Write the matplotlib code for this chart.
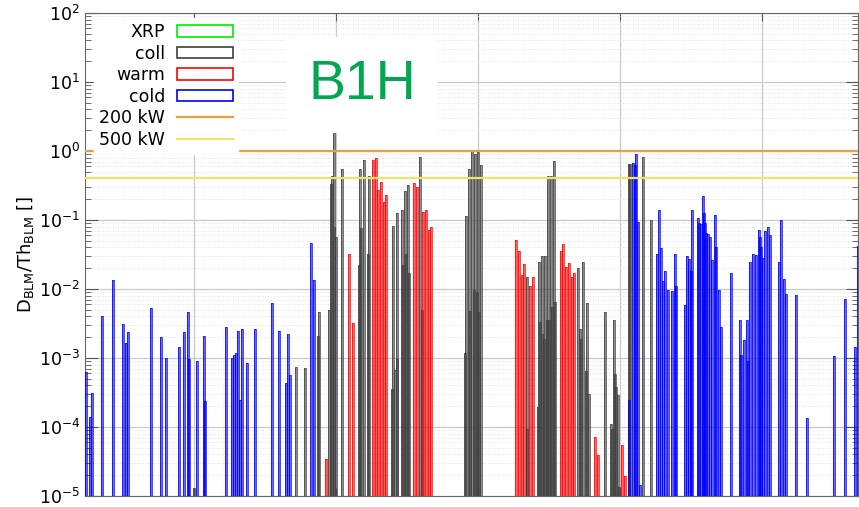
#!/usr/bin/env python3

import matplotlib
matplotlib.use("Agg")
import matplotlib.pyplot as plt
from matplotlib.patches import Patch
from matplotlib.lines import Line2D

# BLM positions along the ring (arbitrary units) and D_BLM/Th_BLM values
cold_s = [0.7, 5, 6.7, 17, 28, 38.3, 40.7, 42.7, 66, 76, 81.3, 94.3, 99, 103, 104.3,
          111.7, 119, 120.3, 141, 147.3, 149, 151, 153, 155, 156.7, 162, 169.7, 187,
          193.7, 201, 203, 205, 226.3, 229.3, 544, 547.7, 550, 551.3, 553.3, 555.3,
          571.7, 574.3, 576, 578, 579.7, 583, 587, 589.7, 591, 600, 601.7, 603.7, 605.7,
          607.3, 612.7, 614.3, 616.3, 617.7, 618.7, 620.3, 621.3, 623.3, 625.3, 627.3,
          629.7, 631.3, 633.7, 635.7, 646, 654.7, 656, 658.7, 661.7, 663.3, 665.3, 668.3,
          670.7, 673.7, 675, 676.3, 677.7, 680, 682.7, 685, 693.7, 696, 699.3, 701, 711,
          722.3, 749, 760, 770, 772.7]
cold_v = [6.3e-4, 1.4e-4, 3.1e-4, 4.0e-3, 1.35e-2, 3.1e-3, 1.66e-3, 2.4e-3, 5.3e-3,
          2.0e-3, 1.0e-3, 1.45e-3, 2.4e-3, 4.6e-3, 9.8e-4, 9.1e-4, 2.1e-3, 2.35e-4,
          2.8e-3, 1.0e-3, 1.1e-3, 1.2e-3, 2.5e-3, 2.5e-4, 2.6e-3, 8.5e-4, 2.6e-3, 6.2e-3,
          2.5e-3, 4.4e-4, 2.2e-3, 5.6e-4, 4.6e-2, 1.36e-2, 2.45e-4, 0.67, 0.63, 0.9,
          0.093, 1.45e-5, 0.032, 0.14, 0.039, 0.013, 0.018, 9.6e-3, 9.4e-3, 0.032, 0.011,
          5.8e-3, 0.030, 0.027, 0.018, 0.14, 0.107, 0.091, 0.088, 0.22, 0.125, 0.091,
          0.064, 0.062, 0.057, 0.026, 0.12, 0.041, 9.6e-3, 2.8e-3, 0.017, 3.6e-3, 1.1e-3,
          1.8e-3, 3.6e-3, 9.1e-4, 0.025, 0.032, 0.031, 0.072, 0.056, 0.040, 0.028, 0.070,
          0.080, 0.060, 0.025, 0.100, 0.014, 8.5e-3, 8.1e-3, 1.35e-4, 1.07e-3, 7.2e-3,
          1.45e-3, 0.042]

coll_s = [109.3, 211.3, 220, 232.7, 233.7, 244.3, 246, 247.3, 249, 249.3, 250.7, 257,
          274, 275, 276.3, 279, 283, 284, 307.3, 308.3, 310, 311.7, 312.3, 317, 318,
          319.7, 321, 322.7, 323.7, 335, 336.7, 380, 381.3, 384.3, 385.3, 387.3, 388.7,
          390.3, 391.7, 393.3, 394.3, 396, 441.7, 442.3, 452.7, 454.3, 455.3, 457, 457.3,
          458.7, 460, 462, 463.3, 464.3, 466, 467.3, 468.7, 470, 492.7, 494.7, 496, 498,
          501, 502, 503.7, 520, 525.7, 527, 528.7, 530, 531.3, 532.7, 534, 544.3, 545.3,
          557.7, 566]
coll_v = [1.3e-5, 7.4e-4, 7.1e-4, 2.1e-3, 4.7e-3, 4.9e-3, 0.33, 0.43, 2.5, 0.08, 0.056,
          0.54, 0.022, 0.55, 0.077, 0.73, 0.032, 0.43, 3.5e-4, 0.083, 6.8e-4, 0.125,
          9.6e-4, 0.14, 0.022, 0.26, 0.032, 0.32, 0.017, 0.83, 5.0e-3, 1.2e-3, 0.115,
          0.55, 4.8e-3, 1.0, 9.6e-3, 0.89, 8.9e-3, 0.98, 4.6e-3, 0.62, 9.3e-5, 0.015,
          1.95e-4, 0.025, 3.3e-3, 2.2e-3, 0.03, 1.9e-3, 0.030, 3.5e-3, 0.44, 3.5e-3, 0.44,
          5.5e-3, 0.72, 6.5e-3, 0.020, 2.6e-3, 1.9e-3, 0.025, 6.5e-4, 6.3e-3, 3.0e-4,
          4.6e-3, 1.1e-4, 9.3e-5, 3.6e-3, 5.9e-4, 3.8e-4, 2.9e-4, 1.35e-5, 0.65, 0.65,
          0.81, 0.10]

warm_s = [240.7, 264.3, 267.7, 287.7, 291, 293.3, 296, 298.7, 301.3, 329, 331.7, 338,
          340.7, 344, 346, 431.3, 434, 436.7, 439.3, 445, 447.7, 476, 478.3, 481, 484,
          486.7, 489.3, 509.7, 513, 536.7, 539.7]
warm_v = [3.4e-5, 0.032, 3.2e-3, 0.75, 0.78, 0.27, 0.36, 0.18, 0.23, 0.34, 0.30, 0.13,
          0.14, 0.071, 0.078, 0.051, 0.036, 0.016, 0.023, 0.011, 0.015, 0.036, 0.045,
          0.021, 0.024, 0.015, 0.017, 7.2e-5, 3.9e-5, 5.5e-5, 1.95e-5]

xrp_s = []
xrp_v = []

limit_200kW = 1.0
limit_500kW = 0.4

s_max = 773
vgrid_s = [109, 251, 393, 535, 677]
y_min, y_max = 1e-5, 1e2

c_xrp = "#00ee00"
c_coll = "#404040"
c_warm = "#ff0000"
c_cold = "#0000ff"
c_200 = "#e9a23b"
c_500 = "#f0e36a"

fig = plt.figure(figsize=(8.59, 5.07), dpi=100)
ax = fig.add_axes([85 / 859, 11 / 507, 773 / 859, 483 / 507])
ax.set_yscale("log")
ax.set_xlim(0, s_max)
ax.set_ylim(y_min, y_max)

bw = 1.8


def draw_bars(s, v, col):
    if not s:
        return
    h = [val - y_min for val in v]
    ax.bar(s, h, width=bw, bottom=y_min, facecolor=col, alpha=0.6,
           edgecolor="none", zorder=3)
    ax.bar(s, h, width=bw, bottom=y_min, facecolor="none", edgecolor=col,
           linewidth=0.6, alpha=0.85, zorder=3)


draw_bars(xrp_s, xrp_v, c_xrp)
draw_bars(coll_s, coll_v, c_coll)
draw_bars(warm_s, warm_v, c_warm)
draw_bars(cold_s, cold_v, c_cold)

ax.axhline(limit_200kW, color=c_200, lw=1.6, zorder=4)
ax.axhline(limit_500kW, color=c_500, lw=1.6, zorder=4)

# grid
ax.set_xticks(vgrid_s)
ax.tick_params(axis="x", labelbottom=False)
ax.grid(True, which="major", axis="both", color="#c8c8c8", lw=0.9, zorder=0)
ax.grid(True, which="minor", axis="y", color="#d8d8d8", lw=0.6, ls=(0, (1, 2)), zorder=0)
ax.set_axisbelow(True)

ax.tick_params(which="both", direction="in", top=True, right=True, colors="#555555",
               labelcolor="black", labelsize=12.5)
ax.tick_params(which="major", length=9)
ax.tick_params(which="minor", length=4.5)
ax.tick_params(axis="x", which="major", length=6)
for sp in ax.spines.values():
    sp.set_color("#666666")

ax.set_ylabel(r"$\mathregular{D_{BLM}/Th_{BLM}}$ []", fontsize=13, labelpad=2)

handles = [
    Patch(facecolor="white", edgecolor=c_xrp, lw=1.2),
    Patch(facecolor="white", edgecolor=c_coll, lw=1.2),
    Patch(facecolor="white", edgecolor=c_warm, lw=1.2),
    Patch(facecolor="white", edgecolor=c_cold, lw=1.2),
    Line2D([], [], color=c_200, lw=1.6),
    Line2D([], [], color=c_500, lw=1.6),
]
labels = ["XRP", "coll", "warm", "cold", "200 kW", "500 kW"]
leg = ax.legend(handles, labels, loc="upper right",
                bbox_to_anchor=(238 / 859, 489 / 507), bbox_transform=fig.transFigure,
                markerfirst=False, fontsize=12.5, handlelength=3.2, handleheight=0.65,
                handletextpad=0.7, labelspacing=0.2, borderpad=0.3, borderaxespad=0,
                frameon=True, fancybox=False, framealpha=1, facecolor="white",
                edgecolor="white")
leg.set_zorder(5)

ax.text(362 / 859, 1 - 85 / 507, "B1H", transform=fig.transFigure, ha="center",
        va="center", fontsize=40, color="#00a650", family="Liberation Sans",
        bbox=dict(facecolor="white", edgecolor="none", pad=16), zorder=5)

fig.savefig("out.png", dpi=100)
